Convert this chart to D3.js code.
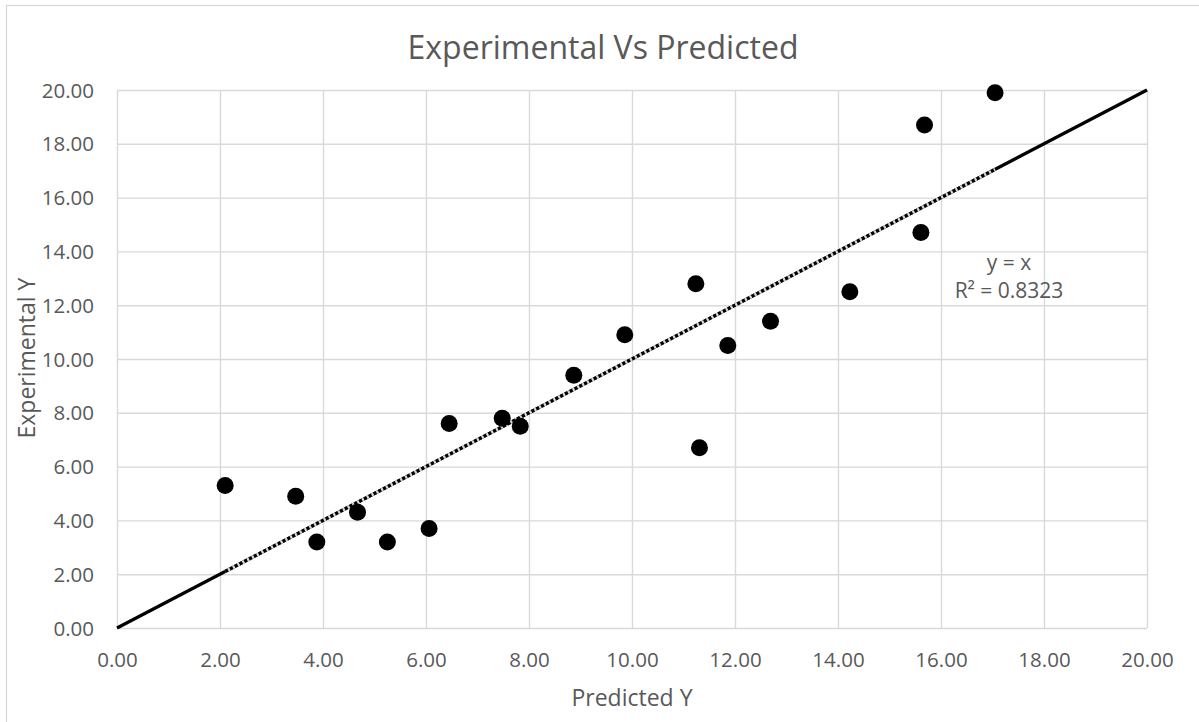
<!DOCTYPE html>
<html>
<head>
<meta charset="utf-8">
<script src="https://d3js.org/d3.v7.min.js"></script>
<style>
  body { margin: 0; background: #fff; }
  text { font-family: "Open Sans", sans-serif; fill: #595959; }
</style>
</head>
<body>
<svg id="chart"></svg>
<script>
	var predicted = [2.10, 3.47, 3.88, 4.67, 5.25, 6.06, 6.45, 7.48, 7.83, 8.87, 9.86, 11.24, 11.31, 11.86, 12.69, 14.23, 15.61, 15.68, 17.05];
	var experimental = [5.3, 4.9, 3.2, 4.3, 3.2, 3.7, 7.6, 7.8, 7.5, 9.4, 10.9, 12.8, 6.7, 10.5, 11.4, 12.5, 14.7, 18.7, 19.9];
	var tickValues = [0, 2, 4, 6, 8, 10, 12, 14, 16, 18, 20];
	var refLine = [0, 20];
	var trendSlope = 1;
	var trendIntercept = 0;
	var trendLabel = ["y = x", "R² = 0.8323"];

	var width = 1199;
	var height = 722;
	var plotLeft = 117, plotRight = 1147, plotTop = 90, plotBottom = 628;

	var myData = predicted.map(function(d, i) { return {x: d, y: experimental[i]}; });

	var x = d3.scaleLinear().domain([0, 20]).range([plotLeft, plotRight]);
	var y = d3.scaleLinear().domain([0, 20]).range([plotBottom, plotTop]);

	var svg = d3.select("#chart").attr("width", width).attr("height", height);

	// chart border
	svg.append("rect").attr("x", 6.5).attr("y", 5.5).attr("width", 1220).attr("height", 740)
		.attr("fill", "#fff").attr("stroke", "#d9d9d9").attr("stroke-width", 1.3);

	// gridlines
	var xGrid = d3.axisBottom(x).tickValues(tickValues).tickSize(-(plotBottom - plotTop)).tickFormat("");
	svg.append("g").attr("transform", "translate(0," + plotBottom + ")").call(xGrid)
		.call(function(g) { g.select(".domain").remove(); })
		.selectAll("line").attr("stroke", "#d9d9d9").attr("stroke-width", 1.4);

	var yGrid = d3.axisLeft(y).tickValues(tickValues).tickSize(-(plotRight - plotLeft)).tickFormat("");
	svg.append("g").attr("transform", "translate(" + plotLeft + ",0)").call(yGrid)
		.call(function(g) { g.select(".domain").remove(); })
		.selectAll("line").attr("stroke", "#d9d9d9").attr("stroke-width", 1.4);

	// tick labels
	var xAxis = d3.axisBottom(x).tickValues(tickValues).tickSize(0).tickPadding(0).tickFormat(d3.format(".2f"));
	svg.append("g").attr("transform", "translate(0,660)").call(xAxis)
		.call(function(g) { g.select(".domain").remove(); })
		.selectAll("text").attr("y", 0).attr("dy", "0.35em")
		.style("font-size", "20.5px").style("font-family", "'Open Sans', sans-serif").attr("fill", "#595959");

	var yAxis = d3.axisLeft(y).tickValues(tickValues).tickSize(0).tickPadding(0).tickFormat(d3.format(".2f"));
	svg.append("g").attr("transform", "translate(94,0)").call(yAxis)
		.call(function(g) { g.select(".domain").remove(); })
		.selectAll("text").attr("x", 0).attr("dy", "0.35em")
		.style("font-size", "20.5px").style("font-family", "'Open Sans', sans-serif").attr("fill", "#595959");

	// y = x reference line
	svg.append("line")
		.attr("x1", x(refLine[0])).attr("y1", y(refLine[0]))
		.attr("x2", x(refLine[1])).attr("y2", y(refLine[1]))
		.attr("stroke", "#000").attr("stroke-width", 3.2);

	// trendline over data range
	var ext = d3.extent(predicted);
	var trend = function(v) { return trendSlope * v + trendIntercept; };
	svg.append("line")
		.attr("x1", x(ext[0])).attr("y1", y(trend(ext[0])))
		.attr("x2", x(ext[1])).attr("y2", y(trend(ext[1])))
		.attr("stroke", "#d9d9d9").attr("stroke-width", 3.2);
	svg.append("line")
		.attr("x1", x(ext[0])).attr("y1", y(trend(ext[0])))
		.attr("x2", x(ext[1])).attr("y2", y(trend(ext[1])))
		.attr("stroke", "#000").attr("stroke-width", 3.2).attr("stroke-dasharray", "3.2,2.2");

	// points
	svg.append("g").selectAll("circle").data(myData).enter().append("circle")
		.attr("cx", function(d) { return x(d.x); })
		.attr("cy", function(d) { return y(d.y); })
		.attr("r", 8.5)
		.attr("fill", "#000");

	// trendline label
	svg.append("text").attr("x", 1009).attr("y", 270).attr("text-anchor", "middle")
		.style("font-size", "21px").text(trendLabel[0]);
	svg.append("text").attr("x", 1009).attr("y", 298).attr("text-anchor", "middle")
		.style("font-size", "21px").text(trendLabel[1]);

	// titles
	svg.append("text").attr("x", 603).attr("y", 59).attr("text-anchor", "middle")
		.style("font-size", "32px").text("Experimental Vs Predicted");
	svg.append("text").attr("x", 632).attr("y", 706).attr("text-anchor", "middle")
		.style("font-size", "23px").text("Predicted Y");
	svg.append("text").attr("transform", "translate(35,358) rotate(-90)").attr("text-anchor", "middle")
		.style("font-size", "23px").text("Experimental Y");
</script>
</body>
</html>
